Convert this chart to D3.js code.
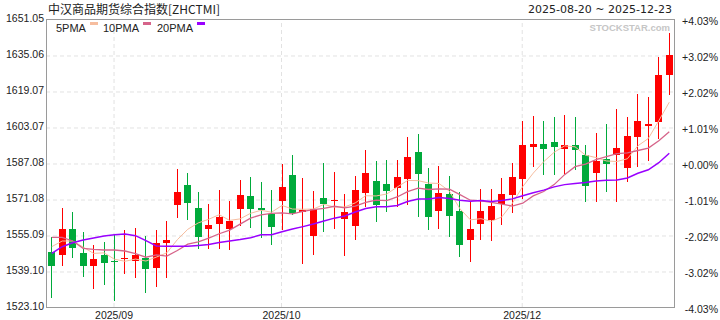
<!DOCTYPE html>
<html>
<head>
<meta charset="utf-8">
<script src="https://cdn.jsdelivr.net/npm/d3@7"></script>
<style>
  body { margin: 0; background: #fff; }
  svg { display: block; }
</style>
</head>
<body>
<div id="chart"></div>
<script>
const width = 720
const height = 320

const title = '中汉商品期货综合指数[ZHCTMI]'
const dateRange = '2025-08-20 ~ 2025-12-23'

// tick labels
const yTicks = [1523.10, 1539.10, 1555.09, 1571.08, 1587.08, 1603.07, 1619.07, 1635.06, 1651.05]
const basePrice = 1587.08
const monthIndex = [6, 22, 45]
const monthLabels = ['2025/09', '2025/10', '2025/12']

// daily candles
const open = [1547.53, 1546.33, 1557.75, 1547.09, 1541.45, 1546.07, 1543.67, 1544.43, 1543.67, 1545.00,
  1540.56, 1551.67, 1568.55, 1577.30, 1567.08, 1557.89, 1560.11, 1557.62, 1566.77, 1572.41,
  1567.08, 1564.55, 1570.33, 1581.74, 1565.17, 1554.78, 1571.53, 1570.33, 1562.33, 1559.22,
  1573.88, 1579.08, 1577.75, 1576.10, 1580.10, 1591.96, 1577.88, 1565.88, 1573.30, 1565.88,
  1553.00, 1560.11, 1561.89, 1568.99, 1572.99, 1580.10, 1594.32, 1595.52, 1596.40, 1593.43,
  1595.07, 1590.63, 1582.77, 1588.72, 1590.76, 1584.99, 1598.76, 1603.51, 1605.42, 1626.30]
const high = [1554.06, 1567.08, 1565.31, 1556.42, 1550.64, 1551.98, 1555.22, 1557.31, 1558.20, 1554.64,
  1557.31, 1561.44, 1584.41, 1582.63, 1574.19, 1568.86, 1575.08, 1570.19, 1579.52, 1580.86,
  1578.63, 1575.08, 1586.63, 1590.76, 1580.41, 1574.77, 1587.08, 1583.08, 1573.30, 1581.30,
  1592.85, 1587.96, 1588.41, 1588.41, 1598.63, 1599.96, 1584.85, 1585.74, 1581.30, 1574.19,
  1570.33, 1575.52, 1575.52, 1580.41, 1587.08, 1605.73, 1607.96, 1605.73, 1607.64, 1608.40,
  1607.51, 1595.07, 1600.40, 1604.40, 1611.07, 1607.51, 1617.73, 1616.40, 1634.17, 1644.83]
const low = [1527.23, 1541.45, 1545.00, 1536.56, 1531.23, 1533.01, 1525.90, 1537.89, 1536.12, 1529.45,
  1532.12, 1536.12, 1562.77, 1561.89, 1549.00, 1548.73, 1549.00, 1548.56, 1559.22, 1558.33,
  1553.89, 1550.78, 1557.44, 1564.11, 1542.34, 1546.33, 1556.55, 1557.89, 1545.89, 1553.00,
  1567.39, 1561.00, 1565.44, 1567.66, 1568.42, 1563.22, 1557.44, 1557.89, 1554.33, 1545.45,
  1543.22, 1553.00, 1552.56, 1559.66, 1564.99, 1571.21, 1585.43, 1581.88, 1581.88, 1582.32,
  1584.10, 1569.88, 1569.88, 1574.32, 1569.88, 1578.77, 1585.43, 1588.10, 1597.87, 1617.42]
const close = [1541.45, 1557.75, 1549.45, 1541.45, 1544.43, 1542.78, 1543.40, 1545.00, 1546.33, 1540.12,
  1551.53, 1552.87, 1574.19, 1569.44, 1554.33, 1559.53, 1563.09, 1561.44, 1572.86, 1566.77,
  1566.19, 1558.78, 1576.41, 1564.99, 1566.19, 1566.77, 1568.99, 1570.64, 1565.31, 1575.08,
  1582.63, 1568.55, 1574.77, 1580.86, 1589.74, 1582.32, 1563.22, 1573.75, 1563.66, 1550.78,
  1557.75, 1565.75, 1567.97, 1573.30, 1580.86, 1595.07, 1595.52, 1593.43, 1594.32, 1595.07,
  1592.98, 1576.99, 1588.10, 1586.76, 1593.87, 1599.07, 1605.73, 1604.40, 1626.17, 1635.06]

// moving average values before a full window is available
const ma5Head = [1549.89, 1552.42, 1552.42, 1549.76]
const ma10Head = [1554.06, 1554.06, 1552.42, 1549.18, 1548.73, 1548.42, 1548.42, 1547.98, 1546.78]
const ma20Head = [1546.96, 1549.89, 1551.67, 1552.87, 1553.75, 1554.64, 1555.22, 1555.53, 1554.78, 1552.56,
  1550.20, 1550.07, 1550.07, 1550.07, 1550.42, 1550.87, 1551.75, 1552.42, 1553.09]

const margin = { top: 19, right: 46, bottom: 13, left: 46 }
const plotW = width - margin.left - margin.right
const plotH = height - margin.top - margin.bottom

const UP = '#ff0000'
const DOWN = '#00aa3b'
const TEXT = '#222'

function movingAvg(n, head) {
  return close.map((c, i) => {
    if (i < n - 1) return head[i]
    return d3.mean(close.slice(i - n + 1, i + 1))
  })
}

const maSeries = [
  { name: '5PMA', color: '#f6bd9f', width: 1, values: movingAvg(5, ma5Head) },
  { name: '10PMA', color: '#d6648a', width: 1.3, values: movingAvg(10, ma10Head) },
  { name: '20PMA', color: '#9900ff', width: 1.5, values: movingAvg(20, ma20Head) }
]

const svg = d3.select('#chart')
  .append('svg')
  .attr('width', width)
  .attr('height', height)
  .style('font-family', 'Arial, "Liberation Sans", sans-serif')

const g = svg.append('g').attr('transform', `translate(${margin.left},${margin.top})`)

const x = d3.scaleBand()
  .domain(d3.range(close.length))
  .range([0, plotW])
  .paddingInner(0.33)
  .paddingOuter(0.165)

const y = d3.scaleLinear()
  .domain([yTicks[0], yTicks[yTicks.length - 1]])
  .range([plotH, 0])

const cx = i => x(i) + x.bandwidth() / 2

// grid
const gridY = g.append('g')
  .call(d3.axisLeft(y).tickValues(yTicks.slice(1, -1)).tickSize(-plotW).tickFormat(''))
gridY.select('.domain').remove()
gridY.selectAll('line').attr('stroke', '#e2e2e2').attr('stroke-dasharray', '4,3')
  .attr('transform', 'translate(0,0.5)')

const gridX = g.append('g')
  .attr('transform', `translate(0,${plotH})`)
  .call(d3.axisBottom(x).tickValues(monthIndex).tickSize(-plotH).tickFormat(''))
gridX.select('.domain').remove()
gridX.selectAll('line').attr('stroke', '#e2e2e2').attr('stroke-dasharray', '4,3')

// frame
g.append('rect')
  .attr('x', 0.5).attr('y', 0.5)
  .attr('width', plotW).attr('height', plotH)
  .attr('fill', 'none')
  .attr('stroke', '#9a9a9a')

// left labels
const yLeft = g.append('g')
  .call(d3.axisLeft(y).tickValues(yTicks).tickSize(0).tickPadding(2).tickFormat(d3.format('.2f')))
yLeft.select('.domain').remove()
yLeft.selectAll('text')
  .attr('fill', TEXT)
  .style('font-size', '10.5px')
  .attr('dy', '0.28em')

// right labels, percent from base
const pct = v => {
  const p = (v - basePrice) / basePrice * 100
  return (p >= 0 ? '+' : '') + p.toFixed(2) + '%'
}
const yRight = g.append('g')
  .attr('transform', `translate(${plotW},0)`)
  .call(d3.axisRight(y).tickValues(yTicks).tickSize(0).tickPadding(44).tickFormat(pct))
yRight.select('.domain').remove()
yRight.selectAll('text')
  .attr('fill', TEXT)
  .attr('text-anchor', 'end')
  .style('font-size', '10.5px')
  .attr('dy', '0.55em')

// month labels
const xAxis = g.append('g')
  .attr('transform', `translate(0,${plotH})`)
  .call(d3.axisBottom(x).tickValues(monthIndex).tickSize(0).tickPadding(5)
    .tickFormat(i => monthLabels[monthIndex.indexOf(i)]))
xAxis.select('.domain').remove()
xAxis.selectAll('text')
  .attr('fill', TEXT)
  .style('font-size', '10.5px')

// candles
const candles = g.append('g').selectAll('g')
  .data(d3.range(close.length))
  .enter().append('g')

candles.append('line')
  .attr('x1', i => Math.round(cx(i)) + 0.5)
  .attr('x2', i => Math.round(cx(i)) + 0.5)
  .attr('y1', i => Math.round(y(high[i])))
  .attr('y2', i => Math.round(y(low[i])))
  .attr('stroke', i => close[i] >= open[i] ? UP : DOWN)
  .attr('stroke-width', 1)

candles.append('rect')
  .attr('x', i => Math.round(cx(i)) - 3)
  .attr('width', 7)
  .attr('y', i => Math.round(y(Math.max(open[i], close[i]))))
  .attr('height', i => Math.max(1, Math.round(y(Math.min(open[i], close[i]))) - Math.round(y(Math.max(open[i], close[i])))))
  .attr('fill', i => close[i] >= open[i] ? UP : DOWN)

// moving averages
const line = d3.line()
  .x((d, i) => cx(i) + 0.5)
  .y(d => y(d))

g.append('g').selectAll('path')
  .data(maSeries)
  .enter().append('path')
  .attr('d', d => line(d.values))
  .attr('fill', 'none')
  .attr('stroke', d => d.color)
  .attr('stroke-width', d => d.width)

// legend
const legendX = [56, 103, 157]
const legend = svg.append('g').selectAll('g')
  .data(maSeries)
  .enter().append('g')
  .attr('transform', (d, i) => `translate(${legendX[i]},0)`)
legend.append('text')
  .attr('x', 0).attr('y', 32)
  .attr('fill', TEXT)
  .style('font-size', '11px')
  .text(d => d.name)
legend.append('rect')
  .attr('x', (d, i) => i === 0 ? 34 : 40)
  .attr('y', 22)
  .attr('width', 8)
  .attr('height', 3)
  .attr('fill', d => d.color)

// watermark
svg.append('text')
  .attr('x', 670).attr('y', 31)
  .attr('text-anchor', 'end')
  .attr('fill', '#c6c6c6')
  .style('font-size', '9.5px')
  .style('font-weight', 'bold')
  .text('STOCKSTAR.com')

// title and range
svg.append('text')
  .attr('x', 48).attr('y', 14)
  .attr('fill', TEXT)
  .style('font-family', '"Noto Sans CJK SC", sans-serif')
  .style('font-size', '12px')
  .text(title)

svg.append('text')
  .attr('x', 672).attr('y', 13)
  .attr('text-anchor', 'end')
  .attr('fill', TEXT)
  .style('font-family', '"DejaVu Sans", sans-serif')
  .style('font-size', '11px')
  .text(dateRange)
</script>
</body>
</html>
